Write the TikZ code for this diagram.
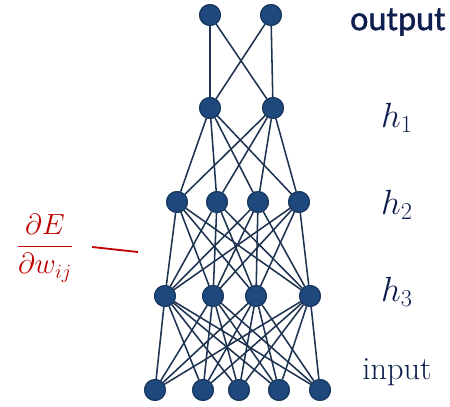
\documentclass[tikz,border=0pt]{standalone}
\usepackage{amsmath}
\usepackage{fontspec}
\newfontfamily\labelsans[FakeBold=1.3]{Carlito}
\usetikzlibrary{positioning}

\definecolor{unitblue}{HTML}{1F497D}
\definecolor{unitrim}{HTML}{17375E}
\definecolor{wirenavy}{HTML}{1E3350}
\definecolor{textnavy}{HTML}{0E1E4E}
\definecolor{gradred}{HTML}{C00000}

\begin{document}
\begin{tikzpicture}[
  x=0.025cm, y=-0.025cm,
  unit/.style ={draw=unitrim,circle,fill=unitblue,line width=0.8pt,
                minimum size=0.52cm,inner sep=0pt},
  wire/.style ={draw=wirenavy,line width=1.1pt},
  layername/.style={text=textnavy,font=\fontsize{23}{26}\selectfont},
]
\useasboundingbox (0,0) rectangle (450,407);

%% =====================================================
%%  Units, layer by layer
%% =====================================================
\node[unit] (o1) at (210, 15) {};
\node[unit] (o2) at (271, 15) {};

\node[unit] (a1) at (210,108) {};
\node[unit] (a2) at (273,108) {};

\node[unit] (b1) at (177,202) {};
\node[unit] (b2) at (217,202) {};
\node[unit] (b3) at (258,202) {};
\node[unit] (b4) at (299,202) {};

\node[unit] (c1) at (165,296) {};
\node[unit] (c2) at (213,296) {};
\node[unit] (c3) at (256,296) {};
\node[unit] (c4) at (310,296) {};

\node[unit] (x1) at (155,390) {};
\node[unit] (x2) at (203,390) {};
\node[unit] (x3) at (239,390) {};
\node[unit] (x4) at (279,390) {};
\node[unit] (x5) at (320,390) {};

%% =====================================================
%%  Weights (every unit to every unit of the next layer)
%% =====================================================
\foreach \u in {o1,o2} \foreach \v in {a1,a2}
  \draw[wire] (\u) -- (\v);
\foreach \u in {a1,a2} \foreach \v in {b1,b2,b3,b4}
  \draw[wire] (\u) -- (\v);
\foreach \u in {b1,b2,b3,b4} \foreach \v in {c1,c2,c3,c4}
  \draw[wire] (\u) -- (\v);
\foreach \u in {c1,c2,c3,c4} \foreach \v in {x1,x2,x3,x4,x5}
  \draw[wire] (\u) -- (\v);

% redraw units on top of the wires
\foreach \n in {o1,o2,a1,a2,b1,b2,b3,b4,c1,c2,c3,c4,x1,x2,x3,x4,x5}
  \node[unit] at (\n) {};

%% =====================================================
%%  Layer names
%% =====================================================
\node[layername,font=\labelsans\fontsize{24.5}{28}\selectfont] (lout) at (398,22) {output};
\node[layername] (lh1) at (397,118) {$h_1$};
\node[layername] (lh2) at (397,205) {$h_2$};
\node[layername] (lh3) at (397,292) {$h_3$};
\node[layername] (lin) at (397,372) {input};

%% =====================================================
%%  Gradient of the error
%% =====================================================
\node[text=gradred,font=\fontsize{22.5}{26}\selectfont] (grad) at (45,248)
      {$\dfrac{\partial E}{\partial w_{ij}}$};
\coordinate (gstart) at (92,247);
\coordinate (gend)   at (138,252);
\draw[gradred,line width=1.3pt] (gstart) -- (gend);

\end{tikzpicture}
\end{document}
